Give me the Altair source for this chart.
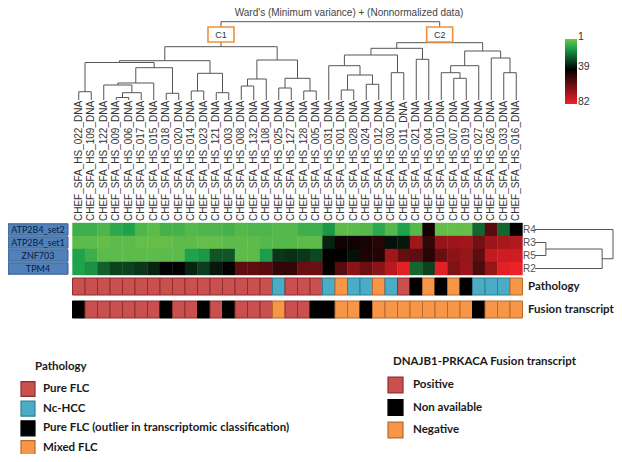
import altair as alt
import pandas as pd

# ---------------- data ----------------
SAMPLE_IDS = ["022", "109", "122", "009", "006", "017", "015", "018", "020", "014",
              "023", "121", "003", "008", "132", "108", "025", "127", "128", "005",
              "031", "001", "028", "024", "012", "030", "011", "021", "004", "010",
              "007", "019", "027", "026", "033", "016"]
GENES = ["ATP2B4_set2", "ATP2B4_set1", "ZNF703", "TPM4"]
ROW_CODES = ["R4", "R3", "R5", "R2"]

EXPR_R4 = [8, 8, 6, 10, 12, 6, 4, 7, 7, 5, 6, 6, 7,
           5, 6, 6, 5, 5, 8, 8, 14, 4, 4, 5, 10, 5, 12,
           5, 42, 3, 3, 3, 22, 55, 22, 39]
EXPR_R3 = [4, 4, 3, 4, 4, 3, 3, 3, 4, 4, 3, 3, 4, 4, 4, 5, 5, 5, 4, 4,
           33, 42, 42, 43, 46, 36, 35,
           68, 48, 66, 67, 68, 60, 67, 69, 71]
EXPR_R5 = [12, 8, 4, 4, 4, 4, 4, 4, 4, 12, 14, 25, 25, 4, 4, 13,
           30, 31, 30, 27,
           39, 39, 36, 44, 45, 68, 57,
           56, 46, 58, 64, 66, 56, 74, 76, 76]
EXPR_R2 = [12, 15, 23, 28, 28, 30, 33, 39, 39, 33, 29, 35, 39,
           56, 56, 55, 48, 48, 58, 58, 40, 55, 64, 58, 64, 72, 80,
           22, 28, 80, 62, 67, 53, 66, 80, 82]
EXPRESSION = [EXPR_R4, EXPR_R3, EXPR_R5, EXPR_R2]

PATH_CATS = ["Pure FLC", "Nc-HCC",
             "Pure FLC (outlier in transcriptomic classification)", "Mixed FLC"]
PATHOLOGY = [0] * 16 + [1, 0, 0, 0, 1, 3, 1, 1, 3, 1, 0, 2, 3, 2, 3, 2, 1, 1, 1, 3]

FUSION_CATS = ["Positive", "Non available", "Negative"]
FUSION = [1, 0, 0, 0, 0, 0, 0, 1, 0, 0, 1, 0, 1, 0, 0, 0, 2, 0, 0, 1,
          1, 2, 2, 1, 2, 2, 2, 2, 2, 2, 2, 2, 1, 2, 2, 2]

# column tree: (child a, child b, merge height); children >= 36 are earlier merges
COL_MERGES = [
    (0, 1, 8.3), (3, 4, 2.5), (37, 5, 7.3), (2, 38, 15.0), (39, 6, 17.0),
    (7, 8, 6.7), (40, 41, 32.3), (36, 42, 37.5), (9, 10, 9.0), (11, 12, 7.3),
    (44, 45, 26.7), (43, 46, 39.3), (13, 14, 14.0), (48, 15, 21.0),
    (16, 17, 12.0), (18, 19, 9.0), (50, 51, 21.7), (49, 52, 40.0),
    (47, 53, 53.3),
    (21, 22, 10.0), (23, 24, 15.7), (55, 56, 25.0), (20, 57, 34.3),
    (25, 26, 27.3), (58, 59, 45.0), (27, 28, 40.7), (60, 61, 51.7),
    (30, 31, 21.7), (29, 63, 27.3), (64, 32, 34.3), (34, 35, 27.3),
    (33, 66, 42.0), (65, 67, 49.0), (62, 68, 57.3),
    (54, 69, 78.3),
]
CLUSTER_NODES = {"C1": 54, "C2": 69}
ROW_MERGES = [(1, 2, 11.0), (4, 3, 68.0), (0, 5, 79.0)]

HEAT_STOPS = [1, 12, 39, 82]
HEAT_COLORS = ["#74c44a", "#1fa24c", "#000000", "#ee2128"]
LEGEND_TICKS = [1, 39, 82]

PATH_COLORS = ["#C9504F", "#4BACC6", "#000000", "#F79646"]
PATH_EDGES = ["#8E2F2E", "#2F7F96", "#000000", "#B8692A"]
FUSION_COLORS = ["#C9504F", "#000000", "#F79646"]
FUSION_EDGES = ["#8E2F2E", "#000000", "#B8692A"]

TITLE = "Ward's (Minimum variance) +  (Nonnormalized data)"

# ---------------- helpers ----------------
N = len(SAMPLE_IDS)


def dendro(merges, leaf_pos):
    n = len(leaf_pos)
    pos = {i: p for i, p in enumerate(leaf_pos)}
    hgt = {i: 0.0 for i in range(n)}
    segs = []
    for k, (a, b, h) in enumerate(merges):
        for c in (a, b):
            segs.append(dict(p1=pos[c], p2=pos[c], h1=hgt[c], h2=h))
        segs.append(dict(p1=pos[a], p2=pos[b], h1=h, h2=h))
        pos[n + k] = (pos[a] + pos[b]) / 2
        hgt[n + k] = h
    return pd.DataFrame(segs), pos, hgt


heat_df = pd.DataFrame([
    dict(c0=c, c1=c + 1, r0=r, r1=r + 1, value=EXPRESSION[r][c])
    for r in range(len(GENES)) for c in range(N)
])
path_df = pd.DataFrame([dict(c0=c, c1=c + 1, t0=0, t1=0.74, cat=PATH_CATS[PATHOLOGY[c]])
                        for c in range(N)])
fus_df = pd.DataFrame([dict(c0=c, c1=c + 1, t0=1, t1=1.74, cat=FUSION_CATS[FUSION[c]])
                       for c in range(N)])
lab_df = pd.DataFrame(dict(cm=[c + 0.5 for c in range(N)],
                           label=[f"CHEF_SFA_HS_{s}_DNA" for s in SAMPLE_IDS]))
col_segs, col_pos, col_hgt = dendro(COL_MERGES, [c + 0.5 for c in range(N)])
row_segs, row_pos, row_hgt = dendro(ROW_MERGES, [r + 0.5 for r in range(len(GENES))])
box_df = pd.DataFrame([dict(name=k, cx=col_pos[v], x0=col_pos[v] - 1.04, x1=col_pos[v] + 1.04)
                       for k, v in CLUSTER_NODES.items()])
gene_df = pd.DataFrame(dict(gene=GENES, code=ROW_CODES,
                            r0=[r + 0.06 for r in range(len(GENES))],
                            r1=[r + 0.94 for r in range(len(GENES))],
                            rm=[r + 0.5 for r in range(len(GENES))]))
strip_lab_df = pd.DataFrame(dict(name=["Pathology", "Fusion transcript"], t=[0.37, 1.37]))
pleg_df = pd.DataFrame(dict(cat=PATH_CATS, i=list(range(len(PATH_CATS)))))
pleg_df["i0"] = pleg_df["i"] - 0.38
pleg_df["i1"] = pleg_df["i"] + 0.38
fleg_df = pd.DataFrame(dict(cat=FUSION_CATS, i=list(range(len(FUSION_CATS)))))
fleg_df["i0"] = fleg_df["i"] - 0.35
fleg_df["i1"] = fleg_df["i"] + 0.35
grad_df = pd.DataFrame(dict(lo=[HEAT_STOPS[0]], hi=[HEAT_STOPS[-1]]))
tick_df = pd.DataFrame(dict(v=LEGEND_TICKS, t=[str(v) for v in LEGEND_TICKS]))

# ---------------- scales ----------------
def S(domain, rng):
    return alt.Scale(domain=domain, range=rng, nice=False, zero=False)

xcol = S([0, N], [64.5, 514.5])
yheat = S([0, len(GENES)], [215, 267])
ystrip = S([0, 2], [270, 316])
ydend = S([0, 80], [92, 12])
xrowd = S([0, 80], [527, 606])
ypleg = S([0, 3], [381, 440])
yfleg = S([0, 2], [377, 422])
ygrad = S([1, 82], [31, 96])

heat_fill = alt.Scale(domain=HEAT_STOPS, range=HEAT_COLORS, interpolate="rgb")
path_fill = alt.Scale(domain=PATH_CATS, range=PATH_COLORS)
path_edge = alt.Scale(domain=PATH_CATS, range=PATH_EDGES)
fus_fill = alt.Scale(domain=FUSION_CATS, range=FUSION_COLORS)
fus_edge = alt.Scale(domain=FUSION_CATS, range=FUSION_EDGES)

BOLD = dict(font="Lato", fontWeight="bold", color="#1a1a1a")

# ---------------- layers ----------------
title = alt.Chart(pd.DataFrame(dict(t=[TITLE]))).mark_text(
    fontSize=10, font="Liberation Sans", color="#444", baseline="top"
).encode(x=alt.value(341), y=alt.value(0), text="t:N")

dend = alt.Chart(col_segs).mark_rule(color="#555", strokeWidth=1).encode(
    x=alt.X("p1:Q", scale=xcol, axis=None), x2="p2:Q",
    y=alt.Y("h1:Q", scale=ydend, axis=None), y2="h2:Q")

boxes = alt.Chart(box_df).mark_rect(fill="white", stroke="#F0913A", strokeWidth=1.6).encode(
    x=alt.X("x0:Q", scale=xcol, axis=None), x2="x1:Q",
    y=alt.value(19), y2=alt.value(34))
box_text = alt.Chart(box_df).mark_text(fontSize=9, font="Liberation Sans", color="#333").encode(
    x=alt.X("cx:Q", scale=xcol, axis=None), y=alt.value(26.5), text="name:N")

col_labels = alt.Chart(lab_df).mark_text(
    angle=270, align="left", baseline="middle", fontSize=10,
    font="Liberation Sans", color="#333"
).encode(x=alt.X("cm:Q", scale=xcol, axis=None), y=alt.value(213), text="label:N")

heat = alt.Chart(heat_df).mark_rect(strokeWidth=0.4).encode(
    x=alt.X("c0:Q", scale=xcol, axis=None), x2="c1:Q",
    y=alt.Y("r0:Q", scale=yheat, axis=None), y2="r1:Q",
    fill=alt.Fill("value:Q", scale=heat_fill, legend=None),
    stroke=alt.Stroke("value:Q", scale=heat_fill, legend=None))

gene_boxes = alt.Chart(gene_df).mark_rect(fill="#4F81BD", stroke="#385D8A", strokeWidth=1).encode(
    x=alt.value(0), x2=alt.value(60),
    y=alt.Y("r0:Q", scale=yheat, axis=None), y2="r1:Q")
gene_text = alt.Chart(gene_df).mark_text(fontSize=9, font="Lato", color="#10203a").encode(
    x=alt.value(30), y=alt.Y("rm:Q", scale=yheat, axis=None), text="gene:N")
row_codes = alt.Chart(gene_df).mark_text(
    fontSize=10, font="Liberation Sans", color="#555", align="left", baseline="middle"
).encode(x=alt.value(515), y=alt.Y("rm:Q", scale=yheat, axis=None), text="code:N")
row_dend = alt.Chart(row_segs).mark_rule(color="#555", strokeWidth=1).encode(
    x=alt.X("h1:Q", scale=xrowd, axis=None), x2="h2:Q",
    y=alt.Y("p1:Q", scale=yheat, axis=None), y2="p2:Q")

path_strip = alt.Chart(path_df).mark_rect(strokeWidth=1).encode(
    x=alt.X("c0:Q", scale=xcol, axis=None), x2="c1:Q",
    y=alt.Y("t0:Q", scale=ystrip, axis=None), y2="t1:Q",
    fill=alt.Fill("cat:N", scale=path_fill, legend=None),
    stroke=alt.Stroke("cat:N", scale=path_edge, legend=None))
fus_strip = alt.Chart(fus_df).mark_rect(strokeWidth=1).encode(
    x=alt.X("c0:Q", scale=xcol, axis=None), x2="c1:Q",
    y=alt.Y("t0:Q", scale=ystrip, axis=None), y2="t1:Q",
    fill=alt.Fill("cat:N", scale=fus_fill, legend=None),
    stroke=alt.Stroke("cat:N", scale=fus_edge, legend=None))
strip_labels = alt.Chart(strip_lab_df).mark_text(
    fontSize=11.5, align="left", baseline="middle", **BOLD
).encode(x=alt.value(520), y=alt.Y("t:Q", scale=ystrip, axis=None), text="name:N")

# colour gradient legend
grad = alt.Chart(grad_df).mark_rect(
    fill=alt.Gradient(
        gradient="linear", x1=0, x2=0, y1=0, y2=1,
        stops=[alt.GradientStop(offset=(v - HEAT_STOPS[0]) / (HEAT_STOPS[-1] - HEAT_STOPS[0]), color=c)
               for v, c in zip(HEAT_STOPS, HEAT_COLORS)])
).encode(x=alt.value(557), x2=alt.value(569),
         y=alt.Y("lo:Q", scale=ygrad, axis=None), y2="hi:Q")
grad_ticks = alt.Chart(tick_df).mark_text(
    fontSize=10.5, font="Liberation Sans", color="#333", align="left", baseline="middle", dy=-2
).encode(x=alt.value(570), y=alt.Y("v:Q", scale=ygrad, axis=None), text="t:N")

# pathology legend
pleg_title = alt.Chart(pd.DataFrame(dict(t=["Pathology"]))).mark_text(
    fontSize=11.5, align="left", baseline="middle", **BOLD
).encode(x=alt.value(27), y=alt.value(359), text="t:N")
pleg_sw = alt.Chart(pleg_df).mark_rect(strokeWidth=1.2).encode(
    x=alt.value(13), x2=alt.value(27),
    y=alt.Y("i0:Q", scale=ypleg, axis=None), y2="i1:Q",
    fill=alt.Fill("cat:N", scale=path_fill, legend=None),
    stroke=alt.Stroke("cat:N", scale=path_edge, legend=None))
pleg_txt = alt.Chart(pleg_df).mark_text(
    fontSize=11.5, align="left", baseline="middle", **BOLD
).encode(x=alt.value(35), y=alt.Y("i:Q", scale=ypleg, axis=None), text="cat:N")

# fusion legend
fleg_title = alt.Chart(pd.DataFrame(dict(t=["DNAJB1-PRKACA Fusion transcript"]))).mark_text(
    fontSize=11.5, align="left", baseline="middle", **BOLD
).encode(x=alt.value(385), y=alt.value(354), text="t:N")
fleg_sw = alt.Chart(fleg_df).mark_rect(strokeWidth=1.2).encode(
    x=alt.value(380), x2=alt.value(395),
    y=alt.Y("i0:Q", scale=yfleg, axis=None), y2="i1:Q",
    fill=alt.Fill("cat:N", scale=fus_fill, legend=None),
    stroke=alt.Stroke("cat:N", scale=fus_edge, legend=None))
fleg_txt = alt.Chart(fleg_df).mark_text(
    fontSize=11.5, align="left", baseline="middle", **BOLD
).encode(x=alt.value(405), y=alt.Y("i:Q", scale=yfleg, axis=None), text="cat:N")

chart = alt.layer(
    title, dend, boxes, box_text, col_labels, heat, gene_boxes, gene_text,
    row_codes, row_dend, path_strip, fus_strip, strip_labels, grad, grad_ticks,
    pleg_title, pleg_sw, pleg_txt, fleg_title, fleg_sw, fleg_txt,
).resolve_scale(
    x="independent", y="independent", fill="independent", stroke="independent"
).properties(
    width=607, height=446, padding=0,
    autosize=alt.AutoSizeParams(type="none"),
).configure_view(strokeWidth=0)

chart.save("out.html", embed_options={"renderer": "svg", "actions": False})
